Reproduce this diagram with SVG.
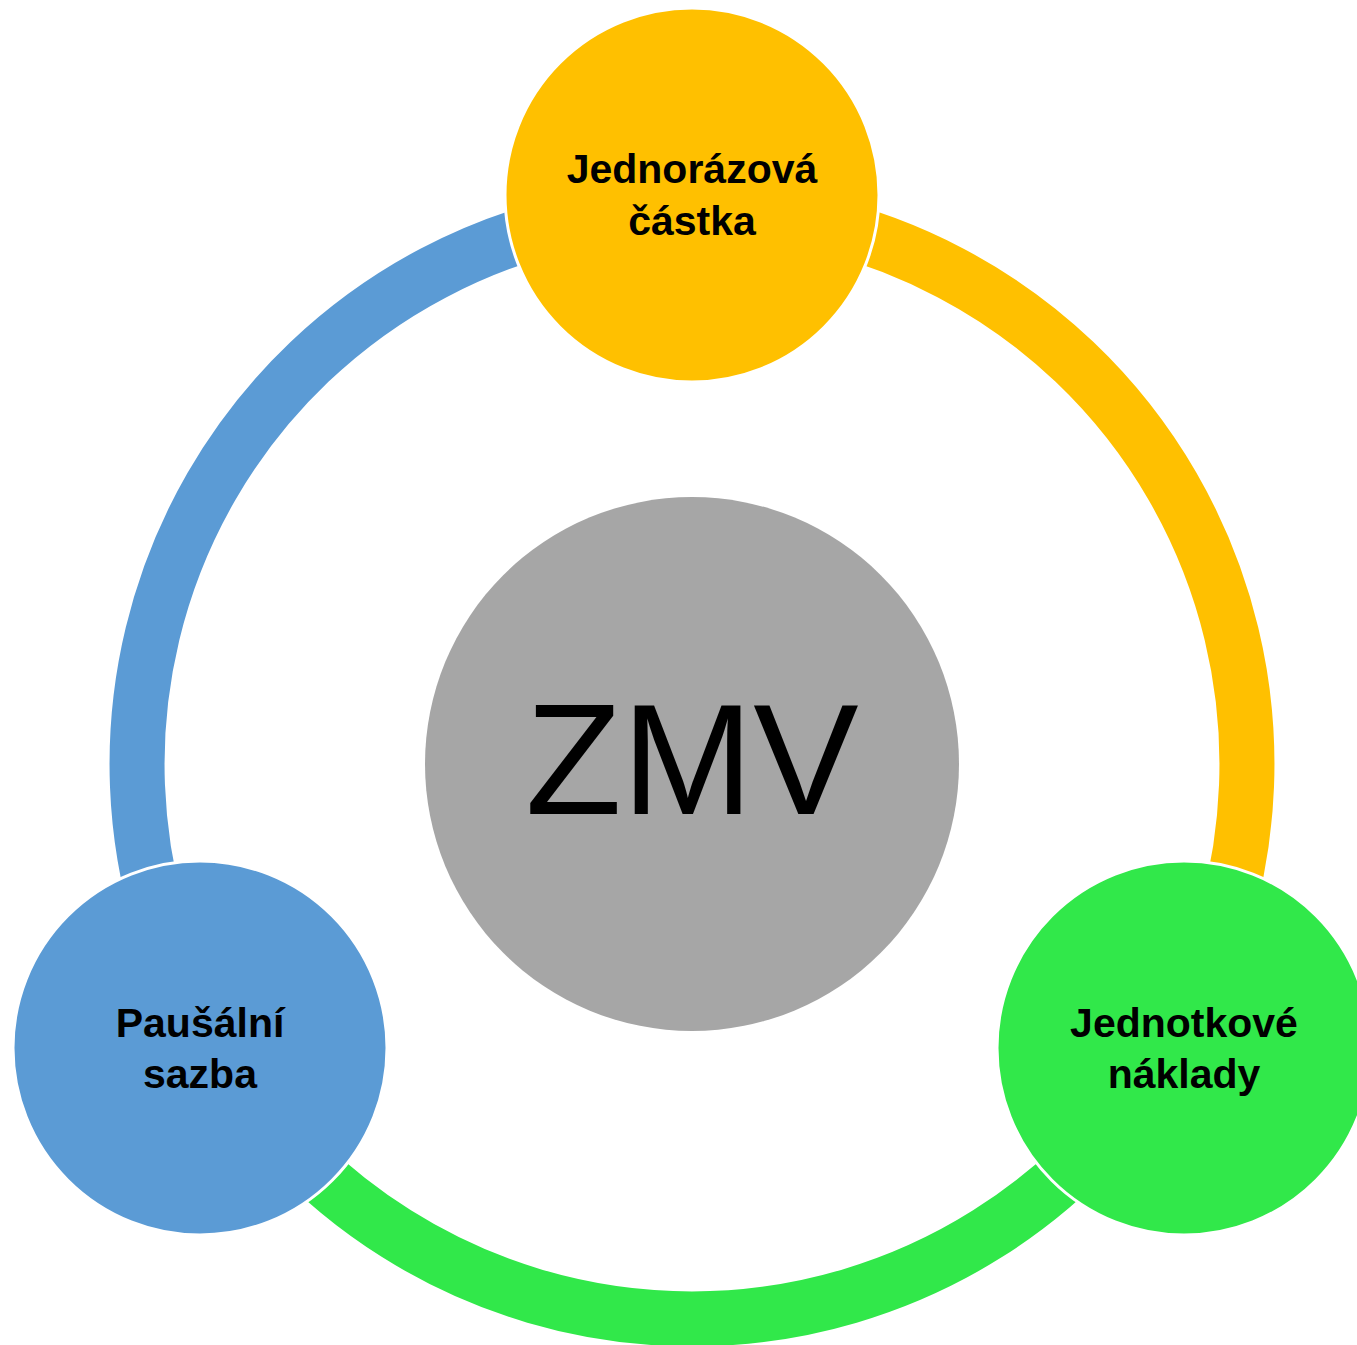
<svg xmlns="http://www.w3.org/2000/svg" width="1357" height="1345" viewBox="0 0 1357 1345">
  <style>
    .arc { fill: none; stroke-width: 55; stroke-linecap: butt; }
    .node { stroke: #FFFFFF; stroke-width: 3; }
    .lbl { font-family: "Liberation Sans", Arial, sans-serif; font-weight: bold; font-size: 41px; fill: #000000; text-anchor: middle; }
    .center { font-family: "Liberation Sans", Arial, sans-serif; font-size: 158px; fill: #000000; text-anchor: middle; }
  </style>
  <rect width="1357" height="1345" fill="#FFFFFF"/>
  <g id="connectors">
    <path class="arc" stroke="#5B9BD5" d="M 211.4 1041.5 A 555 555 0 0 1 692 209"/>
    <path class="arc" stroke="#FFC000" d="M 692 209 A 555 555 0 0 1 1172.6 1041.5"/>
    <path class="arc" stroke="#31E84A" d="M 1172.6 1041.5 A 555 555 0 0 1 211.4 1041.5"/>
  </g>
  <g id="node-zmv">
    <circle cx="692" cy="764" r="267" fill="#A6A6A6"/>
    <text class="center" x="692" y="814">ZMV</text>
  </g>
  <g id="node-jednorazova">
    <circle class="node" cx="692" cy="195" r="187" fill="#FFC000"/>
    <text class="lbl" x="692" y="183">Jednorázová</text>
    <text class="lbl" x="692" y="235">částka</text>
  </g>
  <g id="node-jednotkove">
    <circle class="node" cx="1184" cy="1048" r="187" fill="#31E84A"/>
    <text class="lbl" x="1184" y="1037">Jednotkové</text>
    <text class="lbl" x="1184" y="1088">náklady</text>
  </g>
  <g id="node-pausalni">
    <circle class="node" cx="200" cy="1048" r="187" fill="#5B9BD5"/>
    <text class="lbl" x="200" y="1037">Paušální</text>
    <text class="lbl" x="200" y="1088">sazba</text>
  </g>
</svg>
